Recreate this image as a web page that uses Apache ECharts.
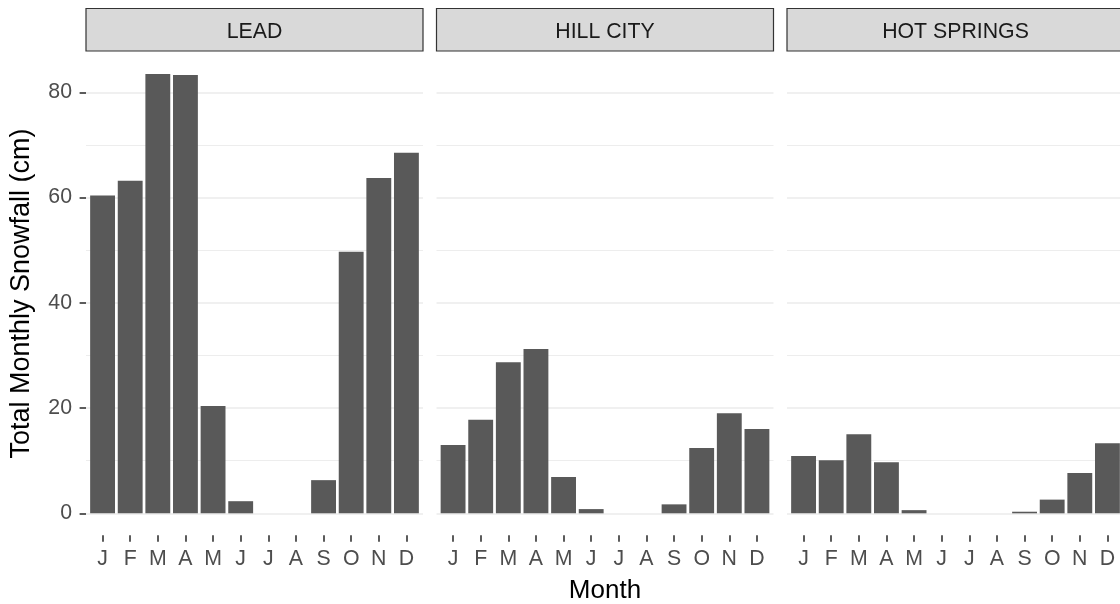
<!DOCTYPE html>
<html><head><meta charset="utf-8">
<script src="https://cdn.jsdelivr.net/npm/echarts@6/dist/echarts.min.js"></script>
<style>html,body{margin:0;padding:0;background:#fff}#c{width:1120px;height:604px}</style>
</head><body><div id="c"></div>
<script>
// ---- data ----
const stations = ['LEAD', 'HILL CITY', 'HOT SPRINGS'];
const months = ['Jan','Feb','Mar','Apr','May','Jun','Jul','Aug','Sep','Oct','Nov','Dec'];
const monthLabels = ['J','F','M','A','M','J','J','A','S','O','N','D'];
const leadSnow = [60.4, 63.2, 83.5, 83.3, 20.4, 2.3, 0, 0, 6.3, 49.7, 63.7, 68.5];
const hillCitySnow = [13.0, 17.8, 28.7, 31.2, 6.9, 0.8, 0, 0, 1.7, 12.4, 19.0, 16.0];
const hotSpringsSnow = [10.9, 10.1, 15.0, 9.7, 0.6, 0, 0, 0, 0.3, 2.6, 7.65, 13.3];
const yTickLabels = [0, 20, 40, 60, 80];
const yTitle = 'Total Monthly Snowfall (cm)';
const xTitle = 'Month';

// ---- layout ----
const FONT = '"Liberation Sans", Arial, Helvetica, sans-serif';
const panelLeft = [86, 436.5, 787];
const panelW = 337;
const zeroY = 513.3, pxPerUnit = 5.2625, yMax = 100;
const belowZeroPx = 22;
const yMinBars = -belowZeroPx / pxPerUnit;
const gridH = yMax * pxPerUnit;
const gridTop = zeroY - gridH;
const unit = panelW / 12.2;
const stripTop = 8.5, stripBottom = 51;
const seriesData = [leadSnow, hillCitySnow, hotSpringsSnow];
const TICK_FS = 21.3;

const grid = [], xAxis = [], yAxis = [], series = [], graphic = [];
stations.forEach((st, p) => {
  const L = panelLeft[p];
  // background grid (gridlines over full panel width)
  grid.push({left: L, top: gridTop, width: panelW, height: gridH, outerBoundsMode: 'none', containLabel: false});
  // bar grid (discrete expansion of 0.6 units each side, extends below zero)
  grid.push({left: L + 0.1 * unit, top: gridTop, width: 12 * unit, height: gridH + belowZeroPx, outerBoundsMode: 'none', containLabel: false});
  const gi = 2 * p;
  xAxis.push({gridIndex: gi, type: 'value', min: 0, max: 1, show: false});
  xAxis.push({
    gridIndex: gi + 1, type: 'category', data: months, boundaryGap: true, position: 'bottom',
    axisLine: {show: false, onZero: false},
    axisTick: {show: true, alignWithLabel: true, length: 6.4, lineStyle: {color: '#333333', width: 1.6}},
    axisLabel: {show: true, interval: 0, margin: 13, color: '#4D4D4D', fontSize: TICK_FS, fontFamily: FONT,
      formatter: (v, i) => monthLabels[i]},
    splitLine: {show: false},
    name: p === 1 ? xTitle : '',
    nameLocation: 'middle', nameGap: 43,
    nameTextStyle: {color: '#000000', fontSize: 26, fontFamily: FONT}
  });
  yAxis.push({
    gridIndex: gi, type: 'value', min: 0, max: yMax, interval: 20,
    axisLine: {show: false, onZero: false},
    axisTick: {show: p === 0, length: 6.4, lineStyle: {color: '#333333', width: 1.6}},
    axisLabel: {show: p === 0, margin: 14, color: '#4D4D4D', fontSize: TICK_FS, fontFamily: FONT,
      formatter: v => yTickLabels.includes(v) ? String(v) : ''},
    splitLine: {show: true, lineStyle: {color: '#EBEBEB', width: 1.5}},
    minorTick: {show: false, splitNumber: 2},
    minorSplitLine: {show: true, lineStyle: {color: '#EBEBEB', width: 0.9}}
  });
  yAxis.push({gridIndex: gi + 1, type: 'value', min: yMinBars, max: yMax, show: false, splitLine: {show: false}});
  series.push({
    name: st, type: 'bar', xAxisIndex: gi + 1, yAxisIndex: gi + 1,
    data: seriesData[p], barWidth: '90%',
    itemStyle: {color: '#595959'}, silent: true, animation: false
  });
  graphic.push({
    type: 'rect', z: 100,
    shape: {x: L, y: stripTop, width: panelW, height: stripBottom - stripTop},
    style: {fill: '#D9D9D9', stroke: '#333333', lineWidth: 1.2}
  });
  graphic.push({
    type: 'text', z: 101, x: L + panelW / 2, y: 32.3,
    style: {text: st, fill: '#1A1A1A', font: TICK_FS + 'px ' + FONT, align: 'center', verticalAlign: 'middle'}
  });
});
graphic.push({
  type: 'text', z: 101, x: 21.5, y: 293.5, rotation: Math.PI / 2,
  style: {text: yTitle, fill: '#000000', font: '27px ' + FONT, align: 'center', verticalAlign: 'middle'}
});

const chart = echarts.init(document.getElementById('c'), null, {renderer: 'canvas', width: 1120, height: 604});
chart.setOption({
  animation: false,
  backgroundColor: '#FFFFFF',
  grid, xAxis, yAxis, series, graphic
});
</script></body></html>
